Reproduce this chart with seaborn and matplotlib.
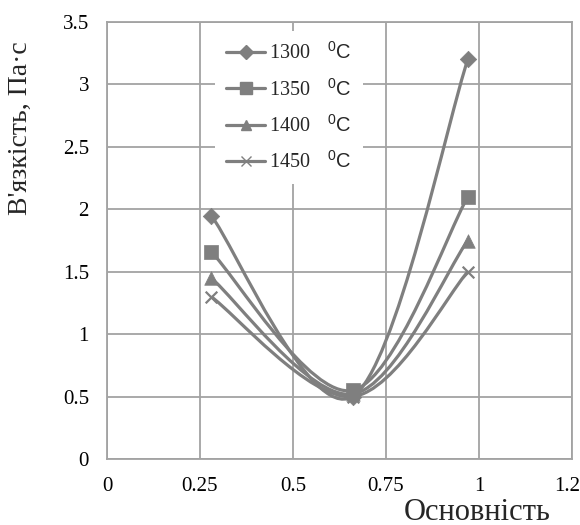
import numpy as np
import pandas as pd
import seaborn as sns
import matplotlib
matplotlib.use("Agg")
import matplotlib.pyplot as plt
from matplotlib.path import Path
from matplotlib.patches import PathPatch
from matplotlib.lines import Line2D

# basicity (x) and viscosity (Pa·s) at each temperature
basicity = [0.28, 0.66, 0.97]
visc_1300 = [1.95, 0.50, 3.20]
visc_1350 = [1.66, 0.55, 2.10]
visc_1400 = [1.45, 0.52, 1.75]
visc_1450 = [1.30, 0.50, 1.50]
temperatures = ["1300", "1350", "1400", "1450"]
x_ticks = [0, 0.25, 0.5, 0.75, 1, 1.25]
x_ticklabels = ["0", "0.25", "0.5", "0.75", "1", "1.25"]
y_ticks = [0, 0.5, 1, 1.5, 2, 2.5, 3, 3.5]
y_ticklabels = ["0", "0.5", "1", "1.5", "2", "2.5", "3", "3.5"]

series = [visc_1300, visc_1350, visc_1400, visc_1450]
markers = ["D", "s", "^", "x"]
marker_sizes = [70, 100, 95, 70]

sns.set_theme(style="white")
plt.rcParams["font.family"] = ["Liberation Serif", "DejaVu Serif"]
plt.rcParams["mathtext.fontset"] = "custom"
plt.rcParams["mathtext.rm"] = "Liberation Serif"
plt.rcParams["mathtext.sf"] = "Liberation Sans"

LINE = "#7f7f7f"
GRID = "#a3a3a3"

fig = plt.figure(figsize=(5.8, 5.25), dpi=100)
ax = fig.add_axes([107 / 580, 1 - 459 / 525, 465 / 580, 437 / 525])


def smooth_path(xs, ys):
    """Cubic Bezier path through the points (Catmull-Rom style smoothing)."""
    P = np.column_stack([xs, ys]).astype(float)
    n = len(P)
    T = np.zeros_like(P)
    for j in range(n):
        lo = max(j - 1, 0)
        hi = min(j + 1, n - 1)
        T[j] = P[hi] - P[lo]
    verts = [P[0]]
    codes = [Path.MOVETO]
    for i in range(n - 1):
        verts += [P[i] + T[i] / 6, P[i + 1] - T[i + 1] / 6, P[i + 1]]
        codes += [Path.CURVE4] * 3
    return Path(verts, codes)


handles = []
for temp, vals, m, s in zip(temperatures, series, markers, marker_sizes):
    ax.add_patch(PathPatch(smooth_path(basicity, vals), facecolor="none",
                           edgecolor=LINE, lw=2.3, zorder=3))
    df = pd.DataFrame({"x": basicity, "y": vals})
    if m == "x":
        sns.scatterplot(data=df, x="x", y="y", marker=m, s=s, color=LINE,
                        linewidth=1.6, ax=ax, zorder=4)
    else:
        sns.scatterplot(data=df, x="x", y="y", marker=m, s=s, color=LINE,
                        edgecolor=LINE, linewidth=0.5, ax=ax, zorder=4)
    handles.append(Line2D([], [], color=LINE, lw=2.3, marker=m,
                          markersize=np.sqrt(s) * 0.8, markeredgecolor=LINE,
                          label=temp + r" $\ \ ^{\mathsf{0}}\mathsf{C}$"))

ax.set_xlim(0, 1.25)
ax.set_ylim(0, 3.5)
ax.set_xticks(x_ticks)
ax.set_xticklabels(x_ticklabels)
ax.set_yticks(y_ticks)
ax.set_yticklabels(y_ticklabels)
ax.grid(True, color=GRID, lw=1.3)
ax.set_axisbelow(True)
for sp in ax.spines.values():
    sp.set_color(GRID)
    sp.set_linewidth(1.3)
ax.tick_params(axis="both", which="major", direction="out", color=GRID,
               width=1.3, labelsize=15, labelcolor="black")
ax.tick_params(axis="y", length=5, pad=8)
ax.tick_params(axis="x", length=5, pad=8)
ax.set_xlabel("Основність", fontsize=22)
ax.xaxis.set_label_coords((477 - 107) / 465, (459 - 512) / 437)
ax.xaxis.label.set_va("center")
ax.set_ylabel("")

fig.text(20 / 580, 1 - 128 / 525, "В'язкість, Па·с", rotation=90,
         ha="center", va="center", fontsize=20)

leg = ax.legend(handles=handles, loc="upper left",
                bbox_to_anchor=((215 - 107) / 465, (459 - 31) / 437),
                frameon=True, facecolor="white", edgecolor="none",
                framealpha=1, fontsize=14.5, handlelength=1.95,
                handletextpad=0.2, labelspacing=0.72, borderpad=0.55,
                numpoints=1, borderaxespad=0)

fig.savefig("out.png", dpi=100, facecolor="white")
